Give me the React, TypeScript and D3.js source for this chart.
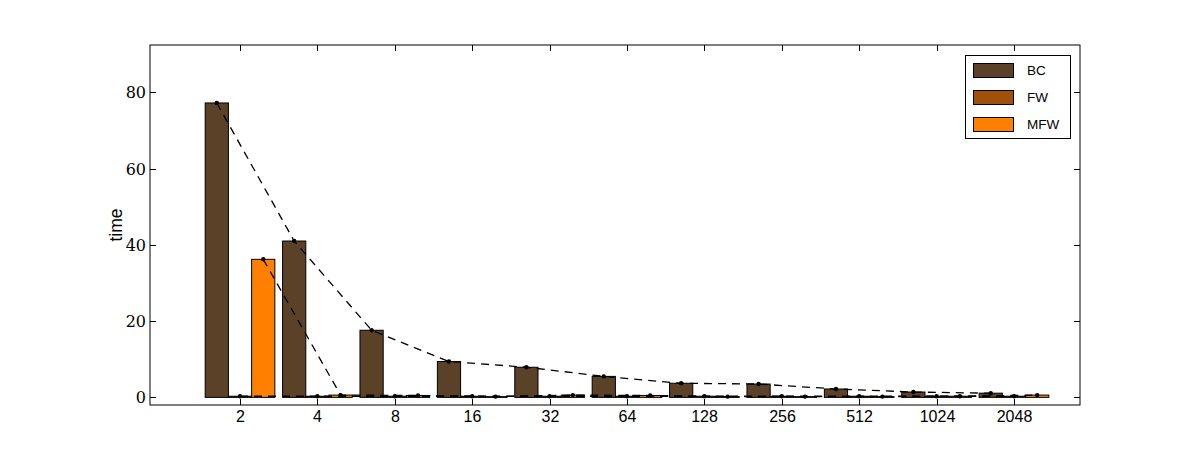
import React, { useEffect, useRef } from 'react';
import * as d3 from 'd3';

const categories = ['2', '4', '8', '16', '32', '64', '128', '256', '512', '1024', '2048'];
const bcTimes = [77.2, 41.0, 17.6, 9.4, 7.9, 5.5, 3.7, 3.5, 2.2, 1.4, 1.1];
const fwTimes = [0.3, 0.3, 0.3, 0.3, 0.3, 0.3, 0.3, 0.3, 0.3, 0.3, 0.3];
const mfwTimes = [36.2, 0.6, 0.5, 0.2, 0.6, 0.5, 0.2, 0.2, 0.2, 0.3, 0.6];
const seriesNames = ['BC', 'FW', 'MFW'];
const seriesColors = ['#5c4129', '#a0500a', '#ff8000'];
const yTicks = [0, 20, 40, 60, 80];

export default function App() {
  const svgRef = useRef<SVGSVGElement>(null);

  useEffect(() => {
    const width = 1200;
    const height = 450;
    const plot = { left: 150, right: 1080, top: 45, bottom: 405 };

    const svg = d3.select(svgRef.current);
    svg.selectAll('*').remove();
    svg.attr('width', width).attr('height', height);

    const x = d3.scaleLinear().domain([-1.163, 10.853]).range([plot.left, plot.right]);
    const y = d3.scaleLinear().domain([-2, 92.4]).range([plot.bottom, plot.top]);

    const barW = 0.3;
    const series = [bcTimes, fwTimes, mfwTimes];

    // bars
    series.forEach((vals, s) => {
      const off = (s - 1) * barW;
      svg.append('g')
        .selectAll('rect')
        .data(vals)
        .enter()
        .append('rect')
        .attr('x', (_, i) => x(i + off - barW / 2))
        .attr('width', x(barW) - x(0))
        .attr('y', d => y(d))
        .attr('height', d => y(0) - y(d))
        .attr('fill', seriesColors[s])
        .attr('stroke', '#000')
        .attr('stroke-width', 1);
    });

    // dashed lines with dot markers at bar tops
    series.forEach((vals, s) => {
      const off = (s - 1) * barW;
      const line = d3.line<number>()
        .x((_, i) => x(i + off))
        .y(d => y(d));
      svg.append('path')
        .datum(vals)
        .attr('d', line)
        .attr('fill', 'none')
        .attr('stroke', '#000')
        .attr('stroke-width', 1.3)
        .attr('stroke-dasharray', '8,6');
      svg.append('g')
        .selectAll('circle')
        .data(vals)
        .enter()
        .append('circle')
        .attr('cx', (_, i) => x(i + off))
        .attr('cy', d => y(d))
        .attr('r', 2.2)
        .attr('fill', '#000');
    });

    // frame
    svg.append('rect')
      .attr('x', plot.left)
      .attr('y', plot.top)
      .attr('width', plot.right - plot.left)
      .attr('height', plot.bottom - plot.top)
      .attr('fill', 'none')
      .attr('stroke', '#000')
      .attr('stroke-width', 1);

    const tickLen = 6;

    // y ticks (left and right, inward)
    yTicks.forEach(t => {
      const yy = Math.round(y(t)) + 0.5;
      svg.append('line').attr('x1', plot.left).attr('x2', plot.left + tickLen)
        .attr('y1', yy).attr('y2', yy).attr('stroke', '#000');
      svg.append('line').attr('x1', plot.right).attr('x2', plot.right - tickLen)
        .attr('y1', yy).attr('y2', yy).attr('stroke', '#000');
      svg.append('text')
        .attr('x', plot.left - 4)
        .attr('y', yy)
        .attr('dy', '0.35em')
        .attr('text-anchor', 'end')
        .style('font-family', "'DejaVu Serif', serif")
        .attr('font-size', 16)
        .text(t);
    });

    // x ticks (bottom and top, inward)
    categories.forEach((c, i) => {
      const xx = Math.round(x(i)) + 0.5;
      svg.append('line').attr('x1', xx).attr('x2', xx)
        .attr('y1', plot.bottom).attr('y2', plot.bottom - tickLen).attr('stroke', '#000');
      svg.append('line').attr('x1', xx).attr('x2', xx)
        .attr('y1', plot.top).attr('y2', plot.top + tickLen).attr('stroke', '#000');
      svg.append('text')
        .attr('x', xx)
        .attr('y', 422)
        .attr('text-anchor', 'middle')
        .attr('font-family', "'Liberation Sans', Arial, sans-serif")
        .attr('font-size', 16)
        .text(c);
    });

    // y label
    svg.append('text')
      .attr('transform', `translate(122,${(plot.top + plot.bottom) / 2}) rotate(-90)`)
      .attr('text-anchor', 'middle')
      .attr('font-family', "'Liberation Sans', Arial, sans-serif")
      .attr('font-size', 17.5)
      .text('time');

    // legend
    const lg = svg.append('g');
    lg.append('rect')
      .attr('x', 965.5).attr('y', 55.5).attr('width', 105).attr('height', 83)
      .attr('fill', '#fff').attr('stroke', '#000');
    seriesNames.forEach((name, s) => {
      const ry = 63 + s * 27;
      lg.append('rect')
        .attr('x', 973.5).attr('y', ry + 0.5).attr('width', 40).attr('height', 14)
        .attr('fill', seriesColors[s]).attr('stroke', '#000');
      lg.append('text')
        .attr('x', 1027)
        .attr('y', ry + 7.5)
        .attr('dy', '0.35em')
        .attr('font-family', "'Liberation Sans', Arial, sans-serif")
        .attr('font-size', 13.5)
        .text(name);
    });
  }, []);

  return <svg ref={svgRef} style={{ position: 'absolute', left: 0, top: 0 }}></svg>;
}
